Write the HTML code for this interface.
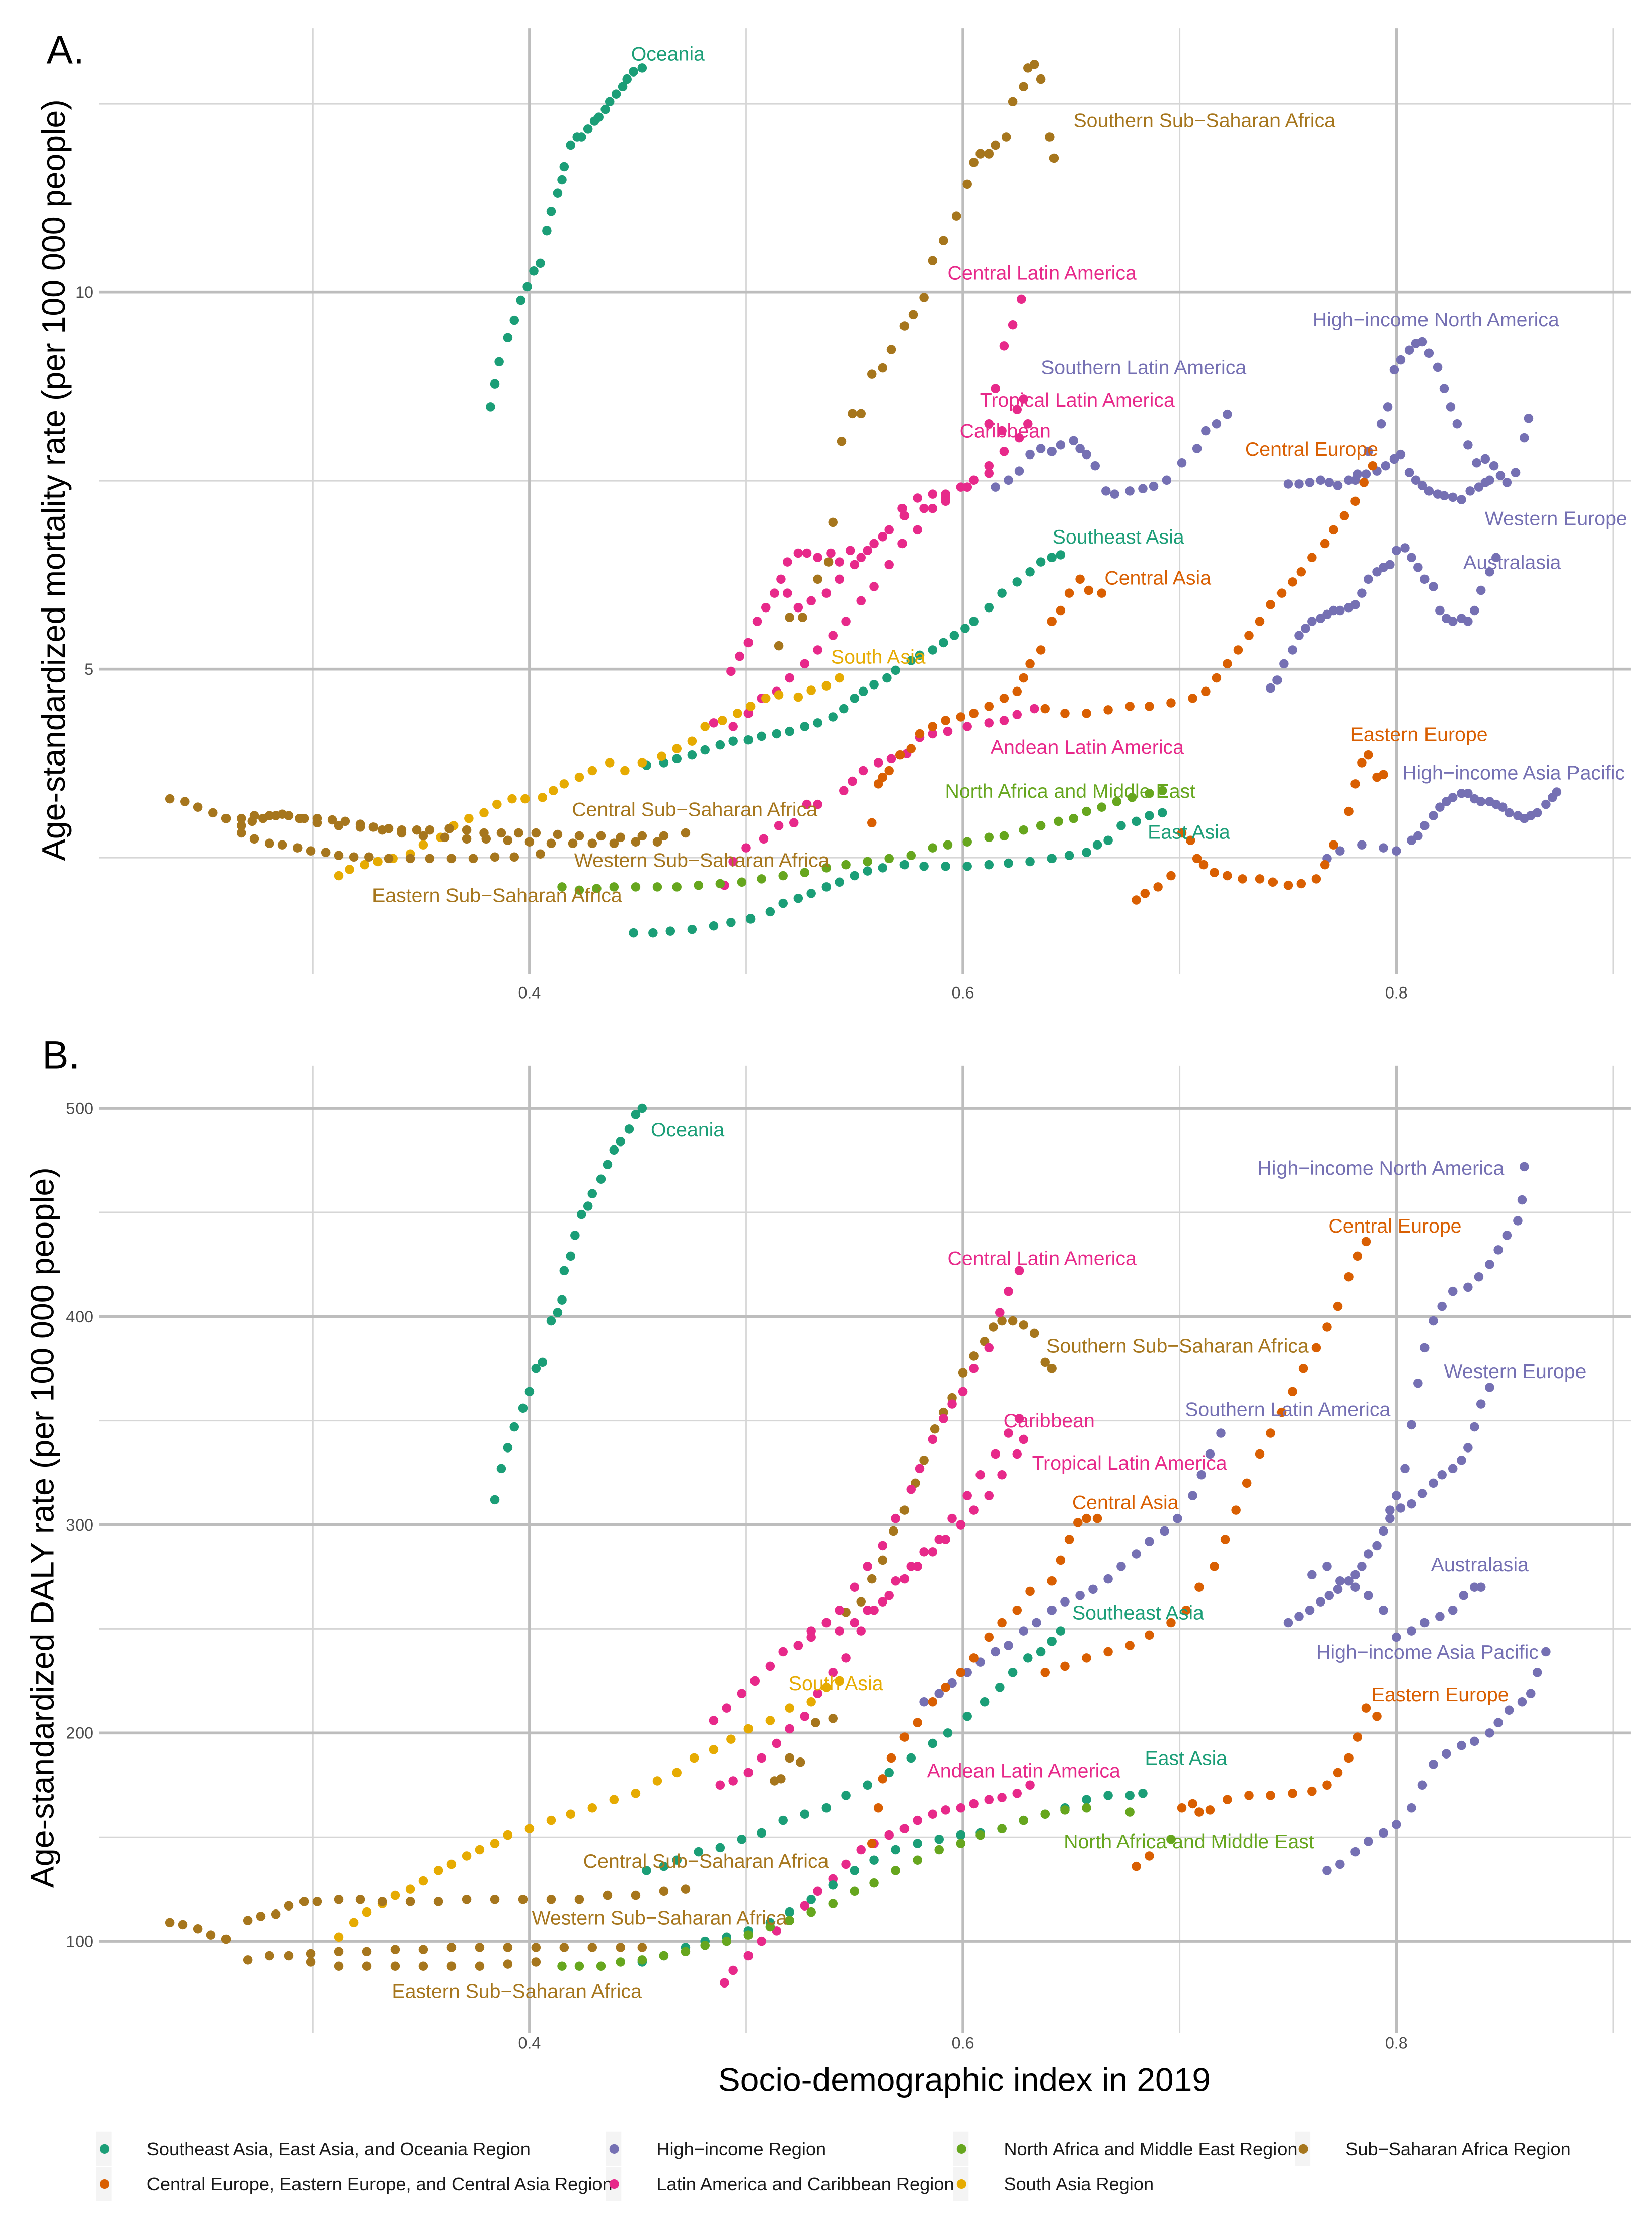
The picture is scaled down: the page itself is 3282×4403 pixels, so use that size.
<!DOCTYPE html>
<html><head><meta charset="utf-8"><style>
html,body{margin:0;padding:0;background:#fff;}
svg{display:block;font-family:"Liberation Sans",sans-serif;}
</style></head><body>
<svg id="chart" width="3282" height="4403" viewBox="0 0 1170 1569.6" xmlns="http://www.w3.org/2000/svg">
<rect width="1170" height="1569.6" fill="#fff"/>
<g id="gridA"></g>
<g id="gridB"></g>
<g id="ptsA"></g>
<g id="ptsB"></g>
<g id="lblA"></g>
<g id="lblB"></g>
<text x="33" y="45" font-size="28">A.</text>
<text x="30" y="757" font-size="28">B.</text>
<text transform="translate(46,340) rotate(-90)" text-anchor="middle" font-size="23">Age-standardized mortality rate (per 100 000 people)</text>
<text transform="translate(38,1082) rotate(-90)" text-anchor="middle" font-size="23">Age-standardized DALY rate (per 100 000 people)</text>
<text x="683" y="1481" text-anchor="middle" font-size="23.5">Socio-demographic index in 2019</text>
<g id="legendBg"></g>
<g id="legend"></g>
</svg>
<script>
const xTicks=[0.4,0.6,0.8];
const xMinor=[0.3,0.5,0.7,0.9];
const yTicksA=[5,10];
const yMinorA=[3.5355,7.0711,14.142];
const yTicksB=[100,200,300,400,500];
const yMinorB=[150,250,350,450];
const C={teal:"#1b9e77",orange:"#d95f02",purple:"#7570b3",magenta:"#e7298a",green:"#66a61e",gold:"#e6ab02",brown:"#a6761d"};

const oceaniaA=[[0.382,8.1],[0.384,8.45],[0.386,8.8],[0.390,9.2],[0.393,9.5],[0.396,9.85],[0.399,10.1],[0.402,10.4],[0.405,10.55],[0.408,11.2],[0.410,11.6],[0.413,12.0],[0.415,12.3],[0.416,12.6],[0.419,13.1],[0.422,13.3],[0.424,13.3],[0.427,13.5],[0.430,13.7],[0.432,13.8],[0.435,14.0],[0.437,14.2],[0.440,14.4],[0.443,14.6],[0.445,14.8],[0.448,15.0],[0.452,15.1]];
const southernSSAA=[[0.515,5.22],[0.520,5.5],[0.526,5.5],[0.533,5.9],[0.538,6.09],[0.540,6.55],[0.544,7.6],[0.549,8.0],[0.553,8.0],[0.558,8.6],[0.563,8.7],[0.567,9.0],[0.573,9.4],[0.577,9.6],[0.582,9.9],[0.586,10.6],[0.591,11.0],[0.597,11.5],[0.602,12.2],[0.605,12.7],[0.608,12.9],[0.612,12.9],[0.615,13.1],[0.620,13.3],[0.623,14.2],[0.628,14.6],[0.630,15.1],[0.633,15.2],[0.636,14.8],[0.640,13.3],[0.642,12.8]];
const centralLAA=[[0.485,4.53],[0.489,4.55],[0.493,4.98],[0.497,5.12],[0.501,5.25],[0.505,5.46],[0.509,5.6],[0.513,5.75],[0.516,5.9],[0.519,6.09],[0.524,6.19],[0.528,6.19],[0.533,6.14],[0.539,6.19],[0.543,6.09],[0.548,6.22],[0.553,6.14],[0.559,6.3],[0.566,6.46],[0.572,6.72],[0.579,6.85],[0.586,6.9],[0.592,6.9],[0.599,6.99],[0.605,7.08],[0.612,7.85],[0.615,8.38],[0.619,9.06],[0.623,9.42],[0.627,9.87]];
const tropicalLAA=[[0.494,4.5],[0.501,4.61],[0.507,4.74],[0.514,4.8],[0.520,4.92],[0.527,5.05],[0.533,5.18],[0.540,5.32],[0.546,5.46],[0.553,5.67],[0.559,5.82],[0.566,6.06],[0.572,6.3],[0.579,6.46],[0.586,6.72],[0.592,6.85],[0.602,6.99],[0.612,7.27],[0.618,7.75],[0.625,8.06],[0.628,8.22]];
const caribbeanA=[[0.519,5.75],[0.524,5.6],[0.530,5.67],[0.537,5.75],[0.543,5.9],[0.550,6.06],[0.556,6.22],[0.563,6.38],[0.573,6.63],[0.582,6.72],[0.592,6.81],[0.602,6.99],[0.612,7.17],[0.619,7.46],[0.626,7.65],[0.630,7.85]];
const andeanA=[[0.490,3.36],[0.494,3.51],[0.500,3.6],[0.508,3.66],[0.515,3.75],[0.522,3.77],[0.528,3.9],[0.533,3.9],[0.545,4.0],[0.549,4.07],[0.554,4.15],[0.561,4.21],[0.567,4.24],[0.574,4.28],[0.580,4.41],[0.586,4.44],[0.593,4.46],[0.602,4.5],[0.612,4.53],[0.619,4.55],[0.625,4.6],[0.633,4.65]];
const southernLAA=[[0.615,6.99],[0.621,7.08],[0.626,7.2],[0.631,7.42],[0.636,7.5],[0.641,7.46],[0.645,7.55],[0.651,7.61],[0.654,7.5],[0.657,7.42],[0.661,7.27],[0.666,6.94],[0.670,6.9],[0.677,6.94],[0.683,6.97],[0.688,7.0],[0.694,7.08],[0.701,7.31],[0.708,7.5],[0.712,7.75],[0.717,7.85],[0.722,7.99]];
const hiNAA=[[0.750,7.03],[0.755,7.03],[0.760,7.05],[0.765,7.08],[0.769,7.05],[0.773,7.01],[0.778,7.08],[0.782,7.16],[0.787,7.46],[0.793,7.85],[0.796,8.1],[0.799,8.67],[0.802,8.83],[0.806,8.99],[0.809,9.1],[0.812,9.13],[0.815,8.94],[0.819,8.71],[0.822,8.38],[0.825,8.1],[0.828,7.85],[0.833,7.55],[0.837,7.31],[0.841,7.36],[0.845,7.27],[0.848,7.14],[0.851,7.05],[0.855,7.18],[0.859,7.65],[0.861,7.93]];
const westernEuropeA=[[0.781,7.08],[0.786,7.16],[0.791,7.2],[0.795,7.27],[0.799,7.36],[0.802,7.42],[0.806,7.18],[0.809,7.08],[0.812,7.01],[0.815,6.94],[0.819,6.9],[0.822,6.88],[0.826,6.86],[0.830,6.83],[0.834,6.94],[0.838,6.99],[0.841,7.05],[0.843,7.08]];
const australasiaA=[[0.742,4.83],[0.745,4.9],[0.748,5.05],[0.752,5.18],[0.755,5.32],[0.758,5.39],[0.761,5.46],[0.765,5.49],[0.768,5.53],[0.771,5.57],[0.774,5.57],[0.778,5.6],[0.781,5.63],[0.784,5.75],[0.787,5.9],[0.791,5.98],[0.794,6.03],[0.797,6.06],[0.800,6.22],[0.804,6.25],[0.807,6.14],[0.810,6.03],[0.813,5.9],[0.817,5.82],[0.820,5.57],[0.823,5.49],[0.826,5.46],[0.830,5.49],[0.833,5.46],[0.836,5.57],[0.839,5.78],[0.843,5.98],[0.846,6.14]];
const hiAPA=[[0.768,3.53],[0.774,3.58],[0.784,3.62],[0.794,3.6],[0.800,3.58],[0.807,3.65],[0.810,3.68],[0.813,3.75],[0.817,3.82],[0.820,3.88],[0.823,3.92],[0.826,3.95],[0.830,3.98],[0.833,3.98],[0.836,3.94],[0.839,3.92],[0.843,3.92],[0.846,3.9],[0.849,3.88],[0.852,3.84],[0.856,3.82],[0.859,3.8],[0.862,3.82],[0.865,3.84],[0.869,3.9],[0.872,3.95],[0.874,3.99]];
const centralEuropeA=[[0.638,4.65],[0.647,4.61],[0.657,4.61],[0.667,4.64],[0.677,4.67],[0.686,4.67],[0.696,4.7],[0.706,4.74],[0.712,4.8],[0.717,4.92],[0.722,5.05],[0.727,5.18],[0.732,5.32],[0.737,5.46],[0.742,5.63],[0.747,5.75],[0.752,5.87],[0.756,5.98],[0.761,6.14],[0.767,6.3],[0.771,6.46],[0.776,6.63],[0.781,6.81],[0.785,7.05],[0.789,7.27]];
const centralAsiaA=[[0.558,3.77],[0.561,4.05],[0.563,4.1],[0.566,4.15],[0.571,4.27],[0.576,4.32],[0.580,4.44],[0.586,4.5],[0.592,4.55],[0.599,4.58],[0.605,4.61],[0.612,4.67],[0.619,4.74],[0.625,4.8],[0.628,4.92],[0.631,5.05],[0.636,5.18],[0.641,5.46],[0.645,5.57],[0.649,5.75],[0.654,5.9],[0.658,5.78],[0.664,5.75]];
const easternEuropeA=[[0.680,3.27],[0.684,3.31],[0.690,3.35],[0.696,3.42],[0.701,3.7],[0.705,3.65],[0.708,3.53],[0.711,3.49],[0.716,3.44],[0.722,3.42],[0.729,3.4],[0.737,3.4],[0.743,3.38],[0.750,3.36],[0.756,3.37],[0.763,3.4],[0.767,3.49],[0.771,3.62],[0.778,3.85],[0.781,4.05],[0.784,4.21],[0.787,4.27],[0.791,4.1],[0.794,4.12]];
const southeastAsiaA=[[0.454,4.19],[0.462,4.21],[0.468,4.24],[0.475,4.27],[0.481,4.31],[0.488,4.35],[0.494,4.38],[0.501,4.39],[0.507,4.42],[0.514,4.44],[0.520,4.46],[0.527,4.5],[0.533,4.53],[0.540,4.58],[0.545,4.65],[0.550,4.74],[0.554,4.8],[0.559,4.86],[0.565,4.92],[0.569,4.99],[0.576,5.08],[0.580,5.13],[0.586,5.18],[0.591,5.25],[0.596,5.32],[0.601,5.39],[0.605,5.46],[0.612,5.6],[0.618,5.75],[0.625,5.87],[0.631,5.98],[0.636,6.09],[0.641,6.14],[0.645,6.17]];
const eastAsiaA=[[0.448,3.08],[0.457,3.08],[0.465,3.09],[0.475,3.1],[0.485,3.12],[0.493,3.14],[0.502,3.16],[0.511,3.2],[0.517,3.25],[0.524,3.28],[0.530,3.31],[0.537,3.35],[0.543,3.38],[0.550,3.42],[0.556,3.45],[0.563,3.47],[0.573,3.49],[0.582,3.48],[0.592,3.48],[0.602,3.48],[0.612,3.49],[0.621,3.5],[0.631,3.51],[0.641,3.53],[0.649,3.55],[0.657,3.57],[0.662,3.62],[0.667,3.65],[0.673,3.75],[0.680,3.78],[0.686,3.82],[0.692,3.84]];
const nameA=[[0.415,3.35],[0.423,3.33],[0.431,3.34],[0.439,3.35],[0.449,3.35],[0.459,3.35],[0.468,3.35],[0.478,3.36],[0.488,3.37],[0.498,3.38],[0.507,3.4],[0.517,3.42],[0.527,3.44],[0.537,3.47],[0.546,3.49],[0.556,3.51],[0.566,3.53],[0.576,3.55],[0.586,3.6],[0.593,3.62],[0.602,3.64],[0.612,3.67],[0.619,3.68],[0.628,3.72],[0.636,3.75],[0.644,3.78],[0.651,3.8],[0.657,3.85],[0.664,3.88],[0.671,3.92],[0.678,3.95],[0.686,3.98],[0.692,4.0]];
const southAsiaA=[[0.312,3.42],[0.317,3.46],[0.324,3.49],[0.330,3.51],[0.337,3.53],[0.345,3.56],[0.351,3.62],[0.359,3.67],[0.365,3.75],[0.372,3.8],[0.379,3.84],[0.385,3.9],[0.392,3.94],[0.398,3.94],[0.406,3.95],[0.411,4.0],[0.416,4.05],[0.423,4.1],[0.429,4.15],[0.437,4.21],[0.444,4.15],[0.452,4.21],[0.461,4.26],[0.468,4.32],[0.475,4.38],[0.481,4.5],[0.489,4.55],[0.496,4.61],[0.502,4.67],[0.509,4.74],[0.515,4.77],[0.524,4.75],[0.530,4.81],[0.537,4.85],[0.543,4.92]];
const centralSSAA=[[0.234,3.94],[0.241,3.92],[0.247,3.88],[0.254,3.84],[0.260,3.8],[0.267,3.75],[0.272,3.78],[0.277,3.8],[0.283,3.82],[0.289,3.82],[0.296,3.8],[0.302,3.8],[0.309,3.79],[0.315,3.78],[0.322,3.76],[0.328,3.74],[0.335,3.73],[0.341,3.72],[0.348,3.72],[0.354,3.72],[0.363,3.73],[0.371,3.72],[0.379,3.7],[0.387,3.7],[0.395,3.7],[0.403,3.7],[0.413,3.69],[0.423,3.68],[0.433,3.68],[0.442,3.67],[0.452,3.68],[0.462,3.68],[0.472,3.7]];
const westernSSAA=[[0.267,3.7],[0.273,3.66],[0.280,3.63],[0.286,3.62],[0.293,3.6],[0.299,3.58],[0.306,3.57],[0.312,3.55],[0.319,3.54],[0.326,3.54],[0.335,3.53],[0.345,3.53],[0.354,3.53],[0.364,3.53],[0.374,3.53],[0.384,3.54],[0.393,3.54],[0.405,3.56]];
const easternSSAA=[[0.267,3.8],[0.273,3.82],[0.280,3.82],[0.286,3.83],[0.294,3.8],[0.302,3.77],[0.312,3.75],[0.322,3.74],[0.332,3.72],[0.341,3.7],[0.351,3.68],[0.361,3.67],[0.371,3.66],[0.380,3.66],[0.390,3.65],[0.400,3.64],[0.410,3.63],[0.420,3.63],[0.429,3.63],[0.439,3.63],[0.449,3.64],[0.459,3.64]];

const oceaniaB=[[0.384,312],[0.387,327],[0.390,337],[0.393,347],[0.397,356],[0.400,364],[0.403,375],[0.406,378],[0.410,398],[0.413,402],[0.415,408],[0.416,422],[0.419,429],[0.421,439],[0.424,449],[0.427,453],[0.429,459],[0.433,466],[0.436,473],[0.439,480],[0.442,484],[0.446,490],[0.449,497],[0.452,500]];
const southernSSAB=[[0.513,177],[0.516,178],[0.520,188],[0.525,186],[0.532,205],[0.540,207],[0.546,258],[0.553,263],[0.558,274],[0.563,283],[0.568,297],[0.573,307],[0.578,320],[0.582,331],[0.587,346],[0.591,354],[0.595,361],[0.600,373],[0.605,381],[0.610,388],[0.614,395],[0.618,398],[0.623,398],[0.628,396],[0.633,392],[0.638,378],[0.641,375]];
const centralLAB=[[0.485,206],[0.491,212],[0.498,219],[0.504,225],[0.511,232],[0.517,239],[0.524,242],[0.530,249],[0.537,253],[0.543,259],[0.550,270],[0.556,280],[0.563,290],[0.569,303],[0.576,317],[0.580,327],[0.586,341],[0.591,351],[0.595,358],[0.600,364],[0.605,375],[0.612,385],[0.617,402],[0.621,412],[0.626,422]];
const tropicalLAB=[[0.488,175],[0.494,177],[0.501,181],[0.507,188],[0.514,195],[0.520,202],[0.527,208],[0.533,219],[0.540,229],[0.546,236],[0.553,249],[0.559,259],[0.566,266],[0.573,274],[0.579,280],[0.586,287],[0.592,293],[0.599,300],[0.605,307],[0.612,314],[0.618,324],[0.625,334],[0.628,341]];
const caribbeanB=[[0.524,242],[0.530,246],[0.537,253],[0.543,249],[0.550,253],[0.556,259],[0.563,263],[0.569,273],[0.576,280],[0.582,287],[0.589,293],[0.595,303],[0.602,314],[0.608,324],[0.615,334],[0.621,344],[0.626,351]];
const andeanB=[[0.490,80],[0.494,86],[0.501,93],[0.507,100],[0.514,105],[0.520,110],[0.527,117],[0.533,124],[0.540,130],[0.546,137],[0.553,144],[0.559,147],[0.566,151],[0.573,154],[0.579,158],[0.586,161],[0.592,163],[0.599,164],[0.605,166],[0.612,168],[0.618,169],[0.625,171],[0.631,175]];
const southernLAB=[[0.582,215],[0.589,219],[0.595,224],[0.602,229],[0.608,234],[0.615,239],[0.621,242],[0.628,249],[0.634,253],[0.641,259],[0.647,263],[0.654,266],[0.660,269],[0.667,274],[0.673,280],[0.680,286],[0.686,292],[0.693,297],[0.699,303],[0.706,314],[0.710,324],[0.714,334],[0.719,344]];
const hiNAB=[[0.750,253],[0.755,256],[0.760,259],[0.765,263],[0.769,266],[0.773,269],[0.778,273],[0.781,276],[0.784,280],[0.787,286],[0.791,290],[0.794,297],[0.797,303],[0.800,314],[0.804,327],[0.807,348],[0.810,368],[0.813,385],[0.817,398],[0.821,405],[0.826,412],[0.833,414],[0.838,419],[0.843,425],[0.847,432],[0.851,439],[0.856,446],[0.858,456],[0.859,472]];
const westernEuropeB=[[0.797,307],[0.802,308],[0.807,310],[0.812,315],[0.817,320],[0.821,324],[0.826,327],[0.830,331],[0.833,337],[0.836,347],[0.839,358],[0.843,366]];
const australasiaB=[[0.761,276],[0.768,280],[0.774,273],[0.781,270],[0.787,266],[0.794,259],[0.800,246],[0.807,249],[0.813,253],[0.820,256],[0.826,259],[0.831,266],[0.836,270],[0.839,270]];
const hiAPB=[[0.768,134],[0.774,137],[0.781,143],[0.787,148],[0.794,152],[0.800,156],[0.807,164],[0.812,175],[0.817,185],[0.823,190],[0.830,194],[0.836,196],[0.843,200],[0.847,205],[0.852,211],[0.858,215],[0.862,219],[0.865,229],[0.869,239]];
const centralEuropeB=[[0.638,229],[0.647,232],[0.657,236],[0.667,239],[0.677,242],[0.686,247],[0.696,253],[0.703,259],[0.709,270],[0.716,280],[0.721,293],[0.726,307],[0.731,320],[0.737,334],[0.742,344],[0.747,354],[0.752,364],[0.757,375],[0.763,385],[0.768,395],[0.773,405],[0.778,419],[0.782,429],[0.786,436]];
const centralAsiaB=[[0.558,147],[0.561,164],[0.563,178],[0.567,188],[0.573,198],[0.579,205],[0.586,215],[0.592,222],[0.599,229],[0.605,236],[0.612,246],[0.618,253],[0.625,259],[0.631,268],[0.641,273],[0.645,283],[0.649,293],[0.653,301],[0.657,303],[0.662,303]];
const easternEuropeB=[[0.680,136],[0.686,141],[0.701,164],[0.706,166],[0.709,162],[0.714,163],[0.722,168],[0.732,170],[0.742,170],[0.752,171],[0.761,172],[0.768,175],[0.773,181],[0.778,188],[0.782,198],[0.786,212],[0.791,208]];
const southeastAsiaB=[[0.454,134],[0.462,136],[0.468,139],[0.478,143],[0.488,145],[0.498,149],[0.507,152],[0.517,158],[0.527,161],[0.537,164],[0.546,170],[0.556,175],[0.566,181],[0.576,188],[0.586,195],[0.593,200],[0.602,208],[0.610,215],[0.617,222],[0.623,229],[0.630,236],[0.636,239],[0.641,244],[0.645,249]];
const eastAsiaB=[[0.452,90],[0.462,93],[0.472,97],[0.481,100],[0.491,102],[0.501,105],[0.511,109],[0.520,114],[0.530,120],[0.540,127],[0.550,134],[0.559,139],[0.569,144],[0.579,147],[0.589,149],[0.599,151],[0.608,152],[0.618,154],[0.628,158],[0.638,161],[0.647,164],[0.657,168],[0.667,170],[0.677,170],[0.683,171]];
const nameB=[[0.415,88],[0.423,88],[0.433,88],[0.442,90],[0.452,91],[0.462,93],[0.472,95],[0.481,98],[0.491,100],[0.501,103],[0.511,107],[0.520,110],[0.530,114],[0.540,118],[0.550,124],[0.559,128],[0.569,134],[0.579,139],[0.589,144],[0.599,147],[0.608,151],[0.618,154],[0.628,158],[0.638,161],[0.647,163],[0.657,164],[0.677,162],[0.696,149]];
const southAsiaB=[[0.312,102],[0.319,109],[0.325,114],[0.332,118],[0.338,122],[0.345,125],[0.351,129],[0.358,134],[0.364,137],[0.371,141],[0.377,144],[0.384,147],[0.390,151],[0.400,154],[0.410,158],[0.419,161],[0.429,164],[0.439,168],[0.449,171],[0.459,177],[0.468,181],[0.476,188],[0.485,192],[0.493,197],[0.501,202],[0.511,206],[0.520,212],[0.530,215],[0.537,222],[0.543,225]];
const centralSSAB=[[0.234,109],[0.240,108],[0.247,106],[0.253,103],[0.260,101],[0.270,110],[0.276,112],[0.283,113],[0.289,117],[0.296,119],[0.302,119],[0.312,120],[0.322,120],[0.332,119],[0.345,119],[0.358,119],[0.371,120],[0.384,120],[0.397,120],[0.410,120],[0.423,120],[0.436,122],[0.449,122],[0.462,124],[0.472,125]];
const westernSSAB=[[0.270,91],[0.280,93],[0.289,93],[0.299,94],[0.312,95],[0.325,95],[0.338,96],[0.351,96],[0.364,97],[0.377,97],[0.390,97],[0.403,97],[0.416,97],[0.429,97],[0.442,97],[0.452,97]];
const easternSSAB=[[0.299,90],[0.312,88],[0.325,88],[0.338,88],[0.351,88],[0.364,88],[0.377,88],[0.390,89],[0.403,90]];

const seriesA=[["oceania",oceaniaA,"teal"],["southern-ssa",southernSSAA,"brown"],["central-latin-america",centralLAA,"magenta"],["tropical-latin-america",tropicalLAA,"magenta"],["caribbean",caribbeanA,"magenta"],["andean-latin-america",andeanA,"magenta"],["southern-latin-america",southernLAA,"purple"],["high-income-north-america",hiNAA,"purple"],["western-europe",westernEuropeA,"purple"],["australasia",australasiaA,"purple"],["high-income-asia-pacific",hiAPA,"purple"],["central-europe",centralEuropeA,"orange"],["central-asia",centralAsiaA,"orange"],["eastern-europe",easternEuropeA,"orange"],["southeast-asia",southeastAsiaA,"teal"],["east-asia",eastAsiaA,"teal"],["north-africa-middle-east",nameA,"green"],["south-asia",southAsiaA,"gold"],["central-ssa",centralSSAA,"brown"],["western-ssa",westernSSAA,"brown"],["eastern-ssa",easternSSAA,"brown"]];
const seriesB=[["oceania",oceaniaB,"teal"],["southern-ssa",southernSSAB,"brown"],["central-latin-america",centralLAB,"magenta"],["tropical-latin-america",tropicalLAB,"magenta"],["caribbean",caribbeanB,"magenta"],["andean-latin-america",andeanB,"magenta"],["southern-latin-america",southernLAB,"purple"],["high-income-north-america",hiNAB,"purple"],["western-europe",westernEuropeB,"purple"],["australasia",australasiaB,"purple"],["high-income-asia-pacific",hiAPB,"purple"],["central-europe",centralEuropeB,"orange"],["central-asia",centralAsiaB,"orange"],["eastern-europe",easternEuropeB,"orange"],["southeast-asia",southeastAsiaB,"teal"],["east-asia",eastAsiaB,"teal"],["north-africa-middle-east",nameB,"green"],["south-asia",southAsiaB,"gold"],["central-ssa",centralSSAB,"brown"],["western-ssa",westernSSAB,"brown"],["eastern-ssa",easternSSAB,"brown"]];

const labelsA=[["Oceania",473,38,"teal"],["Southern Sub\u2212Saharan Africa",853,85,"brown"],["Central Latin America",738,193,"magenta"],["High\u2212income North America",1017,226,"purple"],["Southern Latin America",810,260,"purple"],["Tropical Latin America",763,283,"magenta"],["Caribbean",712,305,"magenta"],["Central Europe",929,318,"orange"],["Western Europe",1102,367,"purple"],["Southeast Asia",792,380,"teal"],["Central Asia",820,409,"orange"],["Australasia",1071,398,"purple"],["South Asia",622,465,"gold"],["Andean Latin America",770,529,"magenta"],["Eastern Europe",1005,520,"orange"],["High\u2212income Asia Pacific",1072,547,"purple"],["North Africa and Middle East",758,560,"green"],["Central Sub\u2212Saharan Africa",492,573,"brown"],["East Asia",842,589,"teal"],["Western Sub\u2212Saharan Africa",497,609,"brown"],["Eastern Sub\u2212Saharan Africa",352,634,"brown"]];
const labelsB=[["Oceania",487,800,"teal"],["High\u2212income North America",978,827,"purple"],["Central Europe",988,868,"orange"],["Central Latin America",738,891,"magenta"],["Southern Sub\u2212Saharan Africa",834,953,"brown"],["Western Europe",1073,971,"purple"],["Southern Latin America",912,998,"purple"],["Caribbean",743,1006,"magenta"],["Tropical Latin America",800,1036,"magenta"],["Central Asia",797,1064,"orange"],["Australasia",1048,1108,"purple"],["Southeast Asia",806,1142,"teal"],["High\u2212income Asia Pacific",1011,1170,"purple"],["South Asia",592,1192,"gold"],["Eastern Europe",1020,1200,"orange"],["East Asia",840,1245,"teal"],["Andean Latin America",725,1254,"magenta"],["North Africa and Middle East",842,1304,"green"],["Central Sub\u2212Saharan Africa",500,1318,"brown"],["Western Sub\u2212Saharan Africa",467,1358,"brown"],["Eastern Sub\u2212Saharan Africa",366,1410,"brown"]];
const legendItems=[["Southeast Asia, East Asia, and Oceania Region","teal",0,0],["High\u2212income Region","purple",1,0],["North Africa and Middle East Region","green",2,0],["Sub\u2212Saharan Africa Region","brown",3,0],["Central Europe, Eastern Europe, and Central Asia Region","orange",0,1],["Latin America and Caribbean Region","magenta",1,1],["South Asia Region","gold",2,1]];

const NS="http://www.w3.org/2000/svg";
const xS=s=>375+(s-0.4)*1535;
const yA=v=>207-267*Math.log2(v/10);
const yB=v=>1375-(v-100)*1.475;
function mk(tag,parent,attrs){const e=document.createElementNS(NS,tag);for(const k in attrs)e.setAttribute(k,attrs[k]);parent.appendChild(e);return e;}

function grid(g,top,bot,yMaj,yMin,ys,yfmt,tickY,panel){
  const L=70,R=1155;
  yMin.forEach(v=>{const l=mk("line",g,{x1:L,x2:R,y1:ys(v),y2:ys(v),stroke:"#d6d6d6","stroke-width":1});
    
    });
  xMinor.forEach(v=>{const l=mk("line",g,{x1:xS(v),x2:xS(v),y1:top,y2:bot,stroke:"#d6d6d6","stroke-width":1});
    
    });
  yMaj.forEach(v=>{const l=mk("line",g,{x1:L,x2:R,y1:ys(v),y2:ys(v),stroke:"#bdbdbd","stroke-width":2});
    
    
    const t=mk("text",g,{x:66,y:ys(v)+4,"text-anchor":"end","font-size":11.5,fill:"#4d4d4d"});
    
    
    t.textContent=yfmt(v);});
  xTicks.forEach(v=>{const l=mk("line",g,{x1:xS(v),x2:xS(v),y1:top,y2:bot,stroke:"#bdbdbd","stroke-width":2});
    
    
    const t=mk("text",g,{x:xS(v),y:tickY,"text-anchor":"middle","font-size":11.5,fill:"#4d4d4d"});
    
    
    t.textContent=v.toFixed(1);});
}
grid(document.getElementById("gridA"),20,690,yTicksA,yMinorA,yA,v=>String(v),707,"panel-a");
grid(document.getElementById("gridB"),755,1440,yTicksB,yMinorB,yB,v=>String(v),1451,"panel-b");

function points(g,series,ys,panel){
  series.forEach(([name,data,col])=>{
    const sg=mk("g",g,{fill:C[col]});
    
    
    data.forEach(([s,v])=>{const c=mk("circle",sg,{cx:xS(s),cy:ys(v),r:3.3});
      
      });
  });
}
points(document.getElementById("ptsA"),seriesA,yA,"panel-a");
points(document.getElementById("ptsB"),seriesB,yB,"panel-b");

function labels(g,list,panel){
  list.forEach(([t,x,y,col])=>{const e=mk("text",g,{x:x,y:y+5,"text-anchor":"middle","font-size":14,fill:C[col]});
    
    
    e.textContent=t;});
}
labels(document.getElementById("lblA"),labelsA,"panel-a");
labels(document.getElementById("lblB"),labelsB,"panel-b");

const lgBg=document.getElementById("legendBg");
const lg=document.getElementById("legend");
const colX=[72,433,679,921];
legendItems.forEach(([t,col,ci,ri])=>{
  const x=colX[ci],y=1522+ri*25;
  const bg=mk("rect",lgBg,{x:x-4,y:y-12,width:11,height:24,fill:"#f4f4f4"});
  
  
  const it=mk("g",lg,{});
  
  
  mk("circle",it,{cx:x+2,cy:y,r:3.4,fill:C[col]});
  const tx=mk("text",it,{x:x+32,y:y+4.5,"font-size":12.9,fill:"#1a1a1a"});
  tx.textContent=t;
});
</script>
</body></html>
